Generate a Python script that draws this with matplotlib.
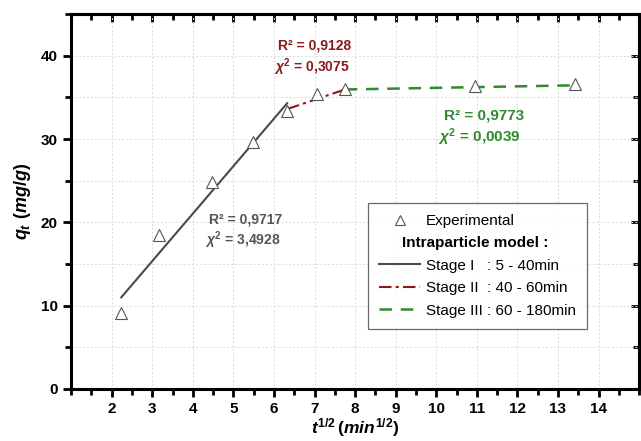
import numpy as np
import matplotlib
matplotlib.use("Agg")
import matplotlib.pyplot as plt
import matplotlib.transforms as mtransforms
from matplotlib.lines import Line2D
from matplotlib.ticker import MultipleLocator

plt.rcParams['font.family'] = ['Liberation Sans', 'DejaVu Sans']
plt.rcParams['mathtext.fontset'] = 'custom'
plt.rcParams['mathtext.rm'] = 'Liberation Sans:bold'
plt.rcParams['mathtext.it'] = 'Liberation Sans:italic:bold'
plt.rcParams['mathtext.bf'] = 'Liberation Sans:bold'

# experimental points, x = t^(1/2)
t_sqrt = [2.236, 3.162, 4.472, 5.477, 6.325, 7.071, 7.746, 10.954, 13.416]
qt = [9.1, 18.5, 24.8, 29.7, 33.4, 35.4, 36.0, 36.4, 36.6]

# fitted segments of the intraparticle diffusion model
stage1_x = [2.236, 6.325]
stage1_y = [11.0, 34.3]
stage2_x = [6.325, 7.746]
stage2_y = [33.6, 35.95]
stage3_x = [7.746, 13.416]
stage3_y = [35.95, 36.45]

c_gray = '#4a4a4a'
c_red = '#8b1a1a'
c_green = '#2e8b2e'

fig = plt.figure(figsize=(6.41, 4.41), dpi=100)
ax = fig.add_axes([0.111, 0.118, 0.886, 0.850])

ax.plot(t_sqrt, qt, linestyle='none', marker='^', markersize=8,
        markerfacecolor='white', markeredgecolor='#555555', markeredgewidth=0.8,
        zorder=5)
ax.plot(stage1_x, stage1_y, color=c_gray, lw=1.5, zorder=4)
ax.plot(stage2_x, stage2_y, color=c_red, lw=1.5, linestyle=(0, (6, 2, 1.5, 2)), zorder=4)
ax.plot(stage3_x, stage3_y, color=c_green, lw=1.8, linestyle=(0, (5, 3.5)), zorder=4)

ax.set_xlim(1, 15)
ax.set_ylim(0, 45)
ax.xaxis.set_major_locator(MultipleLocator(1))
ax.xaxis.set_minor_locator(MultipleLocator(0.5))
ax.yaxis.set_major_locator(MultipleLocator(10))
ax.yaxis.set_minor_locator(MultipleLocator(5))
ax.set_xticks(np.arange(2, 15))

ax.grid(True, axis='x', which='major', color='#d9d9d9', lw=0.7, linestyle=(0, (2, 2)))
ax.grid(True, axis='y', which='both', color='#d9d9d9', lw=0.7, linestyle=(0, (2, 2)))
ax.set_axisbelow(True)

for s in ax.spines.values():
    s.set_linewidth(2.2)

ax.tick_params(which='both', direction='out', width=2, labelsize=11)
ax.tick_params(which='major', length=6)
ax.tick_params(which='minor', length=4)
for lab in ax.get_xticklabels() + ax.get_yticklabels():
    lab.set_fontweight('bold')

# mirrored ticks on top and right, pointing inward
top = ax.secondary_xaxis('top')
top.xaxis.set_major_locator(MultipleLocator(1))
top.xaxis.set_minor_locator(MultipleLocator(0.5))
top.tick_params(which='both', direction='in', width=2, labeltop=False)
top.tick_params(which='major', length=6)
top.tick_params(which='minor', length=4)
right = ax.secondary_yaxis('right')
right.yaxis.set_major_locator(MultipleLocator(10))
right.yaxis.set_minor_locator(MultipleLocator(5))
right.tick_params(which='both', direction='in', width=2, labelright=False)
right.tick_params(which='major', length=6)
right.tick_params(which='minor', length=4)
for sec in (top, right):
    for s in sec.spines.values():
        s.set_linewidth(2.2)

ax.set_xlabel(r'$t^{1/2}\,(min^{1/2})$', fontsize=12.5, labelpad=0)
ax.set_ylabel(r'$q_t\ (mg/g)$', fontsize=13, labelpad=6)

# fit statistics
ax.text(4.4, 20.4, 'R² = 0,9717', color='#555555', fontsize=10, fontweight='bold', va='center')
ax.text(4.3, 17.8, r'$\chi^2$ = 3,4928', color='#555555', fontsize=10, fontweight='bold', va='center')
ax.text(6.1, 41.2, 'R² = 0,9128', color=c_red, fontsize=10, fontweight='bold', va='center')
ax.text(6.0, 38.6, r'$\chi^2$ = 0,3075', color=c_red, fontsize=10, fontweight='bold', va='center')
ax.text(10.2, 32.8, 'R² = 0,9773', color=c_green, fontsize=11, fontweight='bold', va='center')
ax.text(10.05, 30.2, r'$\chi^2$ = 0,0039', color=c_green, fontsize=11, fontweight='bold', va='center')

handles = [
    Line2D([], [], linestyle='none', marker='^', markersize=7, markerfacecolor='white',
           markeredgecolor='#555555', markeredgewidth=0.8),
    Line2D([], [], linestyle='none'),
    Line2D([], [], color=c_gray, lw=1.5),
    Line2D([], [], color=c_red, lw=1.5, linestyle=(0, (6, 2, 1.5, 2))),
    Line2D([], [], color=c_green, lw=1.8, linestyle=(0, (5, 3.5))),
]
labels = ['Experimental', 'Intraparticle model :',
          'Stage I   : 5 - 40min', 'Stage II  : 40 - 60min', 'Stage III : 60 - 180min']
leg = ax.legend(handles, labels, loc='upper left', bbox_to_anchor=(0.523, 0.496),
                fontsize=11, frameon=True, fancybox=False, edgecolor='#444444',
                handlelength=2.7, handletextpad=0.35, labelspacing=0.55,
                borderpad=0.72, borderaxespad=0)
leg.get_frame().set_linewidth(0.9)
title_txt = leg.get_texts()[1]
title_txt.set_fontweight('bold')
title_txt.set_transform(title_txt.get_transform() +
                        mtransforms.ScaledTranslation(-0.24, 0, fig.dpi_scale_trans))

fig.savefig('out.png', dpi=100)
